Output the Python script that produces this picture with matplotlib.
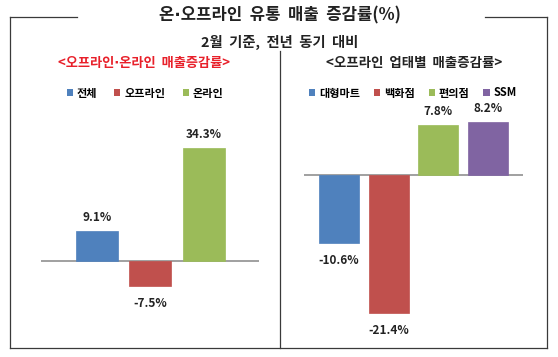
import matplotlib
matplotlib.use("Agg")
import matplotlib.pyplot as plt
from matplotlib.patches import Patch

plt.rcParams['font.family'] = ['Noto Sans CJK KR', 'DejaVu Sans']

W, H, DPI = 558, 357, 100

title = "온\u2219오프라인  유통  매출  증감률(%)"
subtitle = "2월  기준,  전년  동기  대비"

left_title = "<오프라인\u2219온라인  매출증감률>"
left_cats = ["전체", "오프라인", "온라인"]
left_vals = [9.1, -7.5, 34.3]

right_title = "<오프라인  업태별  매출증감률>"
right_cats = ["대형마트", "백화점", "편의점", "SSM"]
right_vals = [-10.6, -21.4, 7.8, 8.2]

colors = ["#4F81BD", "#C0504D", "#9BBB59", "#8064A2"]

fig = plt.figure(figsize=(W / DPI, H / DPI), dpi=DPI)
fig.patch.set_facecolor("white")


def px_axes(x0, y0, x1, y1, **kw):
    # pixel box (top-left origin) -> figure fraction
    return fig.add_axes([x0 / W, 1 - y1 / H, (x1 - x0) / W, (y1 - y0) / H], **kw)


# overlay for frame and titles
ov = px_axes(0, 0, W, H)
ov.set_xlim(0, W)
ov.set_ylim(H, 0)
ov.axis("off")
fc = "#3a3a3a"
ov.plot([10, 77], [17, 17], color=fc, lw=0.9)
ov.plot([485, 547], [17, 17], color=fc, lw=0.9)
ov.plot([10, 10], [17, 348], color=fc, lw=0.9)
ov.plot([547, 547], [17, 348], color=fc, lw=0.9)
ov.plot([10, 547], [348, 348], color=fc, lw=0.9)
ov.plot([280, 280], [51, 348], color=fc, lw=0.9)

ov.text(280, 15, title, ha="center", va="center", fontsize=12, fontweight="bold", color="#222222")
ov.text(280, 42, subtitle, ha="center", va="center", fontsize=10.3, fontweight="bold", color="#222222")
ov.text(144, 63, left_title, ha="center", va="center", fontsize=9.5, fontweight="bold", color="#E8202A")
ov.text(414, 63, right_title, ha="center", va="center", fontsize=9.7, fontweight="bold", color="#222222")


def draw_panel(box, xlim, ylim, cats, vals, width, legend_center, colsp):
    ax = px_axes(*box)
    ax.set_xlim(*xlim)
    ax.set_ylim(*ylim)
    ax.axis("off")
    handles = []
    for i, (c, v) in enumerate(zip(cats, vals)):
        ax.bar(i, v, width=width, color=colors[i], edgecolor=colors[i], lw=0.5, zorder=2)
        off = 9.5 if v > 0 else -12.5
        ax.annotate(f"{v:.1f}%", (i, v), xytext=(0, off), textcoords="offset points",
                    ha="center", va="center", fontsize=8.5, fontweight="bold", color="#222222")
        handles.append(Patch(facecolor=colors[i], edgecolor="none", label=c))
    ax.axhline(0, color="#999999", lw=1.3, zorder=1)
    fig.legend(handles=handles, loc="center", bbox_to_anchor=(legend_center / W, 1 - 93 / H),
               ncol=len(cats), frameon=False, handlelength=0.55, handleheight=0.55,
               handletextpad=0.35, columnspacing=colsp,
               prop={"size": 8, "weight": "bold"})
    return ax


draw_panel((41, 100, 259, 340), (-1.04, 3.03), (-23.9, 48.8), left_cats, left_vals, 0.785, 145, 1.55)
draw_panel((304, 100, 523, 340), (-0.7, 3.7), (-25.6, 11.6), right_cats, right_vals, 0.80, 413, 1.25)

fig.savefig("out.png", dpi=DPI, facecolor="white")
